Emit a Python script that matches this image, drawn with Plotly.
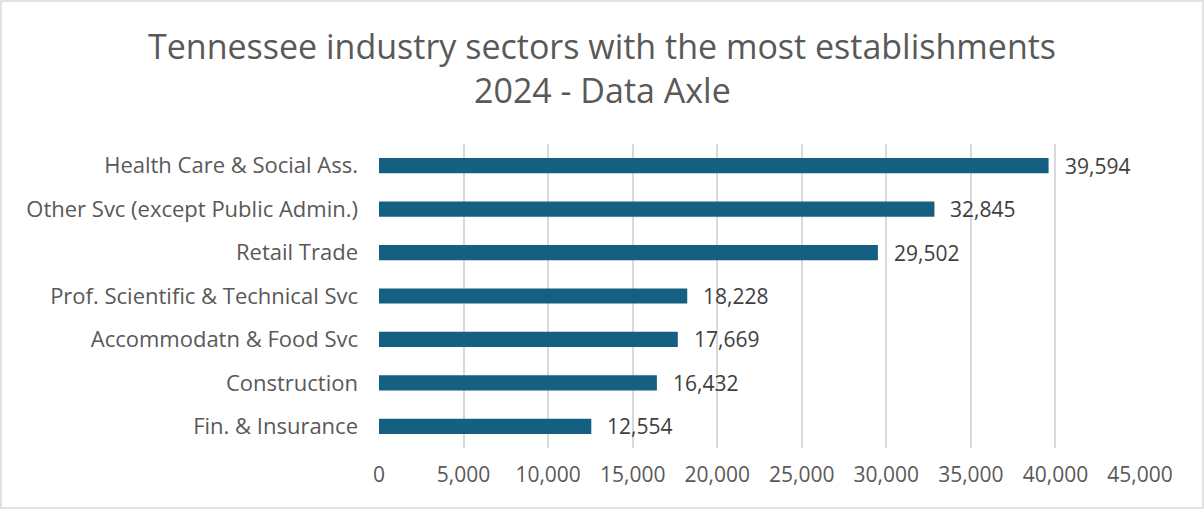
import plotly.graph_objects as go

# Establishment counts by sector (Tennessee, 2024, Data Axle)
sectors = [
    "Health Care & Social Ass.",
    "Other Svc (except Public Admin.)",
    "Retail Trade",
    "Prof. Scientific & Technical Svc",
    "Accommodatn & Food Svc",
    "Construction",
    "Fin. & Insurance",
]
establishments = [39594, 32845, 29502, 18228, 17669, 16432, 12554]
x_ticks = [0, 5000, 10000, 15000, 20000, 25000, 30000, 35000, 40000, 45000]

W, H = 1204, 509
ML, MR, MT, MB = 379, 64, 144, 61
pw, ph = W - ML - MR, H - MT - MB

font_family = "Open Sans, Lato, sans-serif"
text_grey = "#595959"

fig = go.Figure(
    go.Bar(
        y=sectors,
        x=establishments,
        orientation="h",
        marker=dict(color="#156082", line=dict(width=0)),
        hoverinfo="skip",
    )
)

for s, v in zip(sectors, establishments):
    fig.add_annotation(
        x=v, y=s, text=f"{v:,}", showarrow=False,
        xanchor="left", xshift=14, yshift=0,
        font=dict(size=21, color="#404040", family=font_family),
    )

# two-line title centred on the whole chart
cx = (W / 2 - ML) / pw
fig.add_annotation(
    x=cx, xref="paper", y=1 + (MT - 46) / ph, yref="paper",
    text="Tennessee industry sectors with the most establishments",
    showarrow=False, xanchor="center", yanchor="middle",
    font=dict(size=34, color=text_grey, family=font_family),
)
fig.add_annotation(
    x=cx, xref="paper", y=1 + (MT - 90) / ph, yref="paper",
    text="2024 - Data Axle",
    showarrow=False, xanchor="center", yanchor="middle",
    font=dict(size=34, color=text_grey, family=font_family),
)

# outer chart border
fig.add_shape(
    type="rect", xref="paper", yref="paper",
    x0=-(ML - 1) / pw, x1=1 + (MR - 1) / pw,
    y0=-(MB - 1) / ph, y1=1 + (MT - 1) / ph,
    line=dict(color="#d9d9d9", width=1.5), layer="below",
)

fig.update_layout(
    width=W, height=H,
    margin=dict(l=ML, r=MR, t=MT, b=MB),
    paper_bgcolor="white", plot_bgcolor="white",
    bargap=0.65,
    showlegend=False,
    xaxis=dict(
        range=[0, 45000], tickvals=x_ticks, tickformat=",",
        showgrid=True, gridcolor="#d9d9d9", gridwidth=1.5,
        zeroline=False, showline=False,
        tickfont=dict(size=21, color=text_grey, family=font_family),
        ticks="", ticklabelstandoff=12,
    ),
    yaxis=dict(
        autorange="reversed", showgrid=False, zeroline=False, showline=False,
        tickfont=dict(size=22, color=text_grey, family=font_family),
        ticks="", ticklabelstandoff=20,
    ),
)

fig.write_html("out.html")
